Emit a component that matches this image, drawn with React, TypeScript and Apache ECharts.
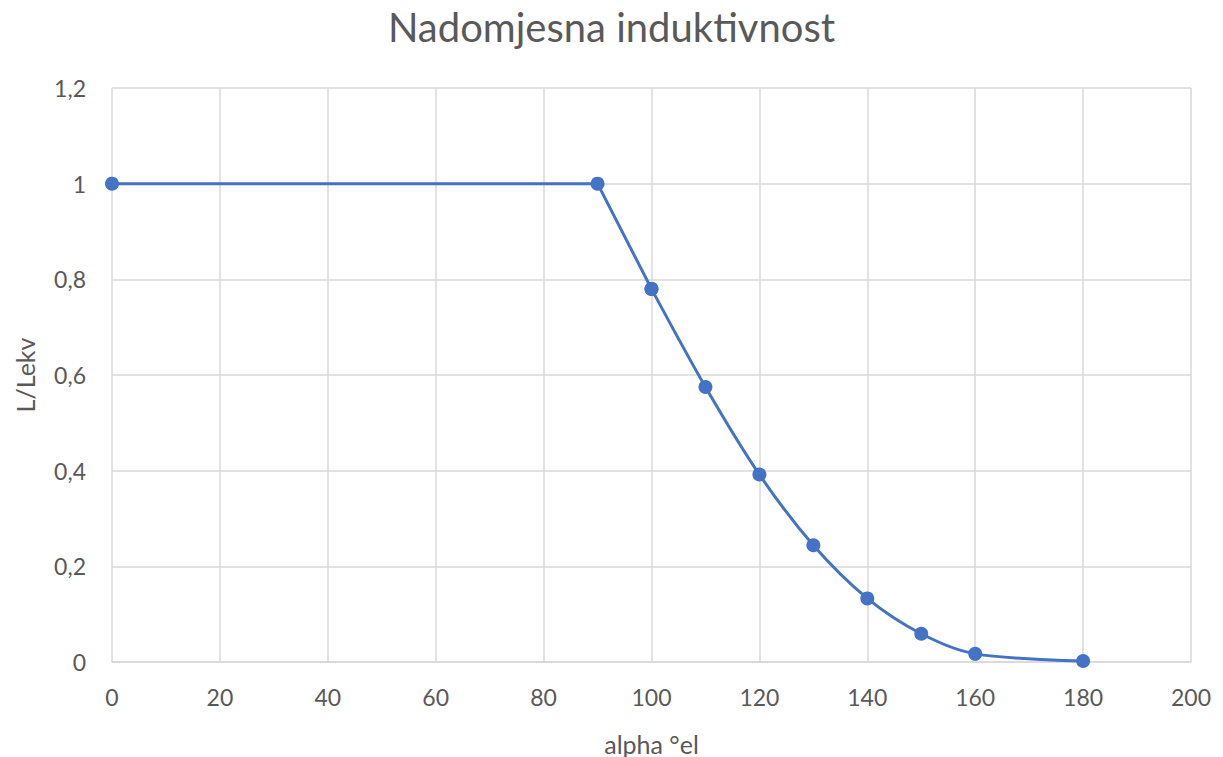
import React, { useEffect, useRef } from "react";
import * as echarts from "echarts";

const alpha = [0, 90, 100, 110, 120, 130, 140, 150, 160, 180];
const ratio = [1, 1, 0.78, 0.575, 0.392, 0.244, 0.133, 0.059, 0.017, 0.002];
const titleText = "Nadomjesna induktivnost";
const xName = "alpha °el";
const yName = "L/Lekv";
// index where the straight part of the curve ends and the smooth part begins
const smoothFrom = 2;

export default function App() {
  const ref = useRef<HTMLDivElement>(null);
  useEffect(() => {
    if (!ref.current) return;
    const chart = echarts.init(ref.current, null, { renderer: "svg" });
    const font = "Lato, 'Open Sans', sans-serif";
    const pts = alpha.map((a, i) => [a, ratio[i]]);
    const color = "#4472C4";
    chart.setOption({
      animation: false,
      backgroundColor: "#ffffff",
      title: {
        text: titleText,
        left: "center",
        top: 2,
        textStyle: { color: "#595959", fontSize: 40, fontWeight: "normal", fontFamily: font },
      },
      grid: { left: 112, right: 32, top: 88, bottom: 95, containLabel: false, outerBoundsMode: "none" },
      xAxis: {
        type: "value",
        min: 0,
        max: 200,
        interval: 20,
        name: xName,
        nameLocation: "middle",
        nameGap: 69,
        nameTextStyle: { color: "#595959", fontSize: 25, fontFamily: font },
        axisLine: { show: true, lineStyle: { color: "#d9d9d9", width: 1.5 } },
        axisTick: { show: false },
        axisLabel: { color: "#595959", fontSize: 23, fontFamily: font, margin: 23 },
        splitLine: { show: true, lineStyle: { color: "#d9d9d9", width: 1.5 } },
      },
      yAxis: {
        type: "value",
        min: 0,
        max: 1.2,
        interval: 0.2,
        name: yName,
        nameLocation: "middle",
        nameGap: 75,
        nameTextStyle: { color: "#595959", fontSize: 25, fontFamily: font },
        axisLine: { show: false },
        axisTick: { show: false },
        axisLabel: {
          color: "#595959",
          fontSize: 23,
          fontFamily: font,
          margin: 26,
          formatter: (v: number) => String(Math.round(v * 10) / 10).replace(".", ","),
        },
        splitLine: { show: true, lineStyle: { color: "#d9d9d9", width: 1.5 } },
      },
      series: [
        {
          type: "line",
          data: pts.slice(0, smoothFrom + 1),
          smooth: false,
          symbol: "circle",
          symbolSize: 14,
          itemStyle: { color },
          lineStyle: { color, width: 3 },
        },
        {
          type: "line",
          data: pts.slice(smoothFrom),
          smooth: 0.3,
          symbol: "circle",
          symbolSize: 14,
          itemStyle: { color },
          lineStyle: { color, width: 3 },
        },
      ],
    });
    return () => chart.dispose();
  }, []);
  return (
    <div
      ref={ref}
      style={{ position: "fixed", left: 0, top: 0, width: 1223, height: 757, background: "#fff" }}
    />
  );
}
